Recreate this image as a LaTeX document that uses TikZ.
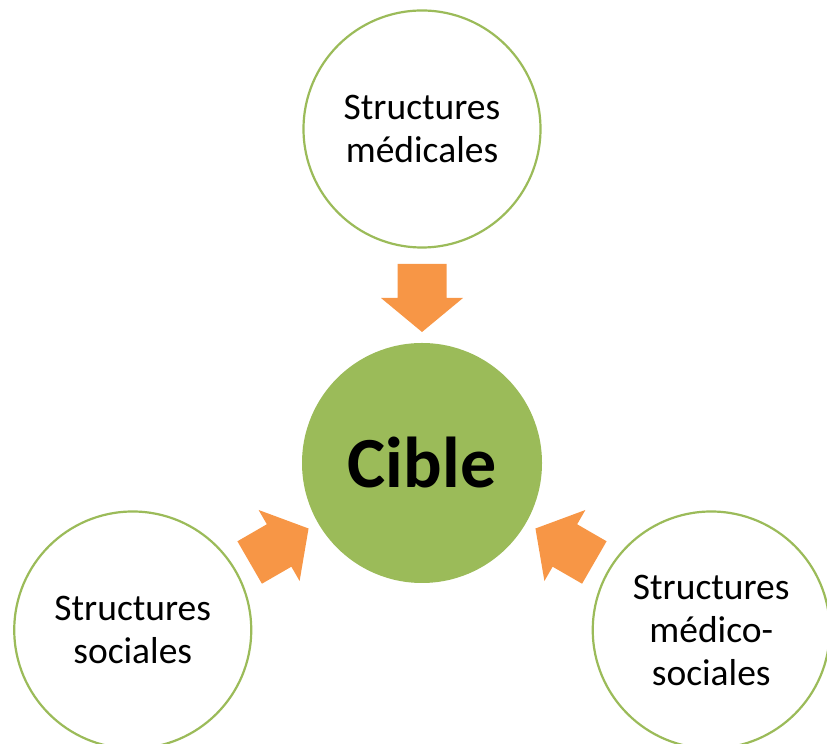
\documentclass[tikz,border=0pt]{standalone}
\usepackage{fontspec}
\setmainfont{Carlito}
\usetikzlibrary{calc}
\definecolor{cgreen}{HTML}{9BBB59}
\definecolor{corange}{HTML}{F79646}
\begin{document}
\begin{tikzpicture}[x=1bp,y=1bp,
  outer/.style={circle,draw=cgreen,line width=2.2bp,fill=white,minimum size=237bp,inner sep=0pt,align=center,
    font=\fontsize{37.5bp}{43bp}\selectfont},
  core/.style={circle,fill=cgreen,minimum size=240bp,inner sep=0pt,
    font=\fontsize{72bp}{80bp}\selectfont\bfseries},
  blockarrow/.style={fill=corange}]
\useasboundingbox (0,0) rectangle (827,744);
\clip (0,0) rectangle (827,744);
\node[core] (cible) at (422,281) {Cible};
\node[outer] (med) at ($(cible)+(90:334)$) {Structures\\médicales};
\node[outer] (soc) at ($(cible)+(210:334)$) {Structures\\sociales};
\node[outer] (medsoc) at ($(cible)+(330:334)$) {Structures\\médico-\\sociales};
\coordinate (a1) at ($(cible)!165bp!(med)$);
\coordinate (a2) at ($(cible)!165bp!(soc)$);
\coordinate (a3) at ($(cible)!165bp!(medsoc)$);
\foreach \c/\r in {a1/270,a2/30,a3/150}{
  \fill[blockarrow,shift={(\c)},rotate=\r] (-34,-24.5) -- (0,-24.5) -- (0,-41) -- (34,0) -- (0,41) -- (0,24.5) -- (-34,24.5) -- cycle;
}
\end{tikzpicture}
\end{document}
